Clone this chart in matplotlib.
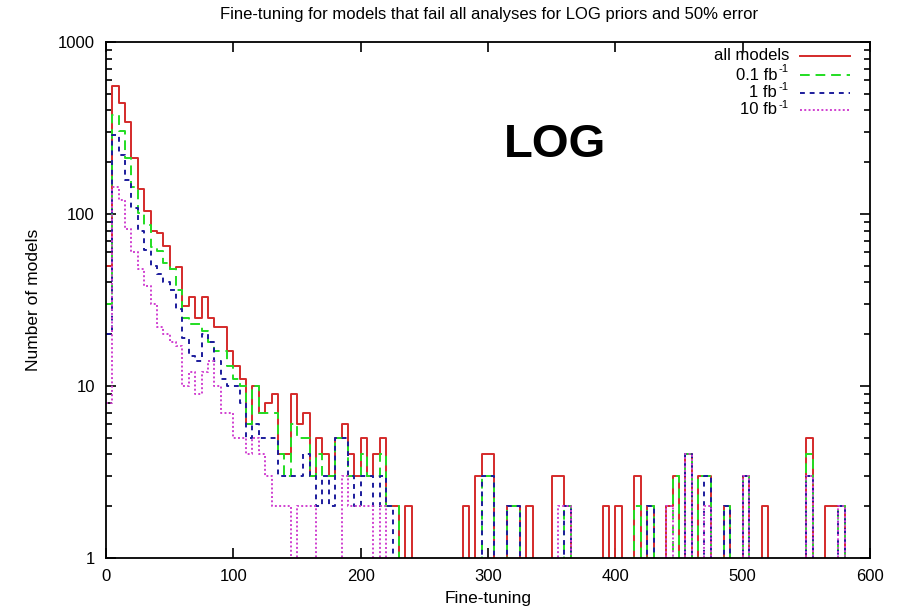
import numpy as np
import matplotlib
matplotlib.use("Agg")
import matplotlib.pyplot as plt
from matplotlib.lines import Line2D
from matplotlib.ticker import LogLocator, FixedLocator, NullFormatter

plt.rcParams["font.family"] = ["Liberation Sans", "DejaVu Sans"]

# histogram bins of width 5 in fine-tuning, starting at 0
bin_width = 5

all_models = [
    50, 555, 440, 344, 211, 140, 104, 80, 78, 65,
    48, 49, 29, 33, 25, 33, 25, 22, 22, 16,
    13, 11, 6, 10, 7, 8, 9, 4, 4, 9,
    6, 7, 3, 5, 4, 3, 5, 6, 4, 3,
    5, 3, 4, 5, 2, 2, 0, 2, 0, 0,
    0, 0, 0, 0, 0, 0, 2, 0, 3, 4,
    4, 0, 0, 2, 2, 0, 2, 0, 0, 0,
    3, 3, 2, 0, 0, 0, 0, 0, 2, 0,
    2, 0, 0, 3, 0, 2, 0, 0, 2, 3,
    0, 4, 0, 3, 3, 0, 0, 2, 0, 0,
    3, 0, 0, 2, 0, 0, 0, 0, 0, 0,
    5, 0, 0, 2, 2, 2,
]

lumi_01 = [
    30, 377, 303, 211, 143, 101, 86, 64, 61, 52,
    48, 36, 25, 23, 23, 21, 18, 16, 16, 13,
    11, 10, 6, 10, 7, 7, 7, 4, 3, 6,
    5, 5, 3, 4, 3, 3, 5, 5, 3, 3,
    4, 3, 3, 4, 2, 2, 0, 0, 0, 0,
    0, 0, 0, 0, 0, 0, 0, 0, 0, 3,
    3, 0, 0, 2, 2, 0, 0, 0, 0, 0,
    0, 0, 2, 0, 0, 0, 0, 0, 0, 0,
    0, 0, 0, 2, 0, 2, 0, 0, 0, 3,
    0, 4, 0, 3, 3, 0, 0, 2, 0, 0,
    3, 0, 0, 0, 0, 0, 0, 0, 0, 0,
    4, 0, 0, 0, 0, 2,
]

lumi_1 = [
    20, 288, 220, 158, 108, 80, 62, 50, 45, 40,
    36, 28, 19, 15, 14, 20, 18, 14, 11, 10,
    10, 8, 5, 6, 5, 5, 5, 3, 3, 3,
    3, 4, 3, 2, 3, 2, 5, 5, 3, 2,
    3, 3, 2, 3, 2, 0, 0, 0, 0, 0,
    0, 0, 0, 0, 0, 0, 0, 0, 0, 3,
    3, 0, 0, 2, 2, 0, 0, 0, 0, 0,
    0, 0, 2, 0, 0, 0, 0, 0, 0, 0,
    0, 0, 0, 0, 0, 2, 0, 0, 0, 0,
    0, 4, 0, 0, 3, 0, 0, 2, 0, 0,
    3, 0, 0, 0, 0, 0, 0, 0, 0, 0,
    3, 0, 0, 0, 0, 2,
]

lumi_10 = [
    8, 144, 121, 82, 60, 48, 38, 30, 22, 20,
    18, 17, 10, 12, 9, 12, 14, 10, 7, 7,
    5, 5, 4, 5, 4, 3, 2, 2, 2, 0,
    2, 2, 2, 0, 0, 0, 0, 3, 2, 2,
    2, 2, 0, 2, 0, 0, 0, 0, 0, 0,
    0, 0, 0, 0, 0, 0, 0, 0, 0, 0,
    0, 0, 0, 0, 0, 0, 0, 0, 0, 0,
    0, 2, 2, 0, 0, 0, 0, 0, 0, 0,
    0, 0, 0, 0, 0, 0, 0, 0, 2, 0,
    0, 4, 0, 0, 2, 0, 0, 0, 0, 0,
    3, 0, 0, 0, 0, 0, 0, 0, 0, 0,
    3, 0, 0, 0, 0, 2,
]

# (key text, superscript, counts, colour, dash style)
series = [
    ("all models", "", all_models, "#d42a2a", "-"),
    ("0.1 fb", "-1", lumi_01, "#22dd22", (0, (5, 3))),
    ("1 fb", "-1", lumi_1, "#1c1c9c", (0, (2.5, 2.5))),
    ("10 fb", "-1", lumi_10, "#d040d0", (0, (1, 1.2))),
]

W, H = 897, 612
fig = plt.figure(figsize=(W / 100, H / 100), dpi=100)
ax = fig.add_axes([106 / W, 54 / H, 764 / W, 516 / H])

for label, sup, counts, color, ls in series:
    vals = np.asarray(counts, dtype=float)
    edges = np.arange(len(vals) + 1) * bin_width
    # close the last bin back down to zero
    y = np.append(vals, [0.0, 0.0])
    x = np.append(edges, edges[-1] + bin_width)
    ax.step(x, y, where="post", color=color, linestyle=ls, linewidth=1.4)

ax.set_yscale("log")
ax.set_xlim(0, 600)
ax.set_ylim(1, 1000)

ax.xaxis.set_major_locator(FixedLocator([0, 100, 200, 300, 400, 500, 600]))
ax.yaxis.set_major_locator(FixedLocator([1, 10, 100, 1000]))
ax.yaxis.set_minor_locator(LogLocator(base=10, subs=np.arange(2, 10)))
ax.yaxis.set_minor_formatter(NullFormatter())
ax.set_yticklabels(["1", "10", "100", "1000"])

ax.tick_params(which="both", direction="in", top=True, right=True,
               width=1.2, labelsize=12, colors="black")
ax.tick_params(which="major", length=7, pad=8)
ax.tick_params(which="minor", length=4)
for sp in ax.spines.values():
    sp.set_linewidth(1.3)

ax.set_xlabel("Fine-tuning", fontsize=12.5, labelpad=5)
ax.set_ylabel("Number of models", fontsize=12.5, labelpad=12)
fig.text(489 / W, 1 - 15 / H,
         "Fine-tuning for models that fail all analyses for LOG priors and 50% error",
         ha="center", va="center", fontsize=12)

ax.text(0.588, 0.80, "LOG", transform=ax.transAxes, ha="center", va="center",
        fontsize=34, fontweight="bold")

# key in the top right corner: right-aligned text, then a line sample
def px_ax(xp, yp):
    return (xp - 106) / 764, (558 - yp) / 516

key_rows = [55.5, 75, 92.5, 110]
for (label, sup, counts, color, ls), yp in zip(series, key_rows):
    if sup:
        tx, ty = px_ax(777, yp)
        ax.text(tx, ty, label, transform=ax.transAxes,
                ha="right", va="center", fontsize=12)
        sx, sy = px_ax(778, yp - 5.5)
        ax.text(sx, sy, sup, transform=ax.transAxes,
                ha="left", va="center", fontsize=8)
    else:
        tx, ty = px_ax(789, yp)
        ax.text(tx, ty, label, transform=ax.transAxes,
                ha="right", va="center", fontsize=12)
    x0, yl = px_ax(800, yp)
    x1, _ = px_ax(850, yp)
    ax.add_line(Line2D([x0, x1], [yl, yl], transform=ax.transAxes,
                       color=color, linestyle=ls, linewidth=1.4))

fig.savefig("out.png", dpi=100)
